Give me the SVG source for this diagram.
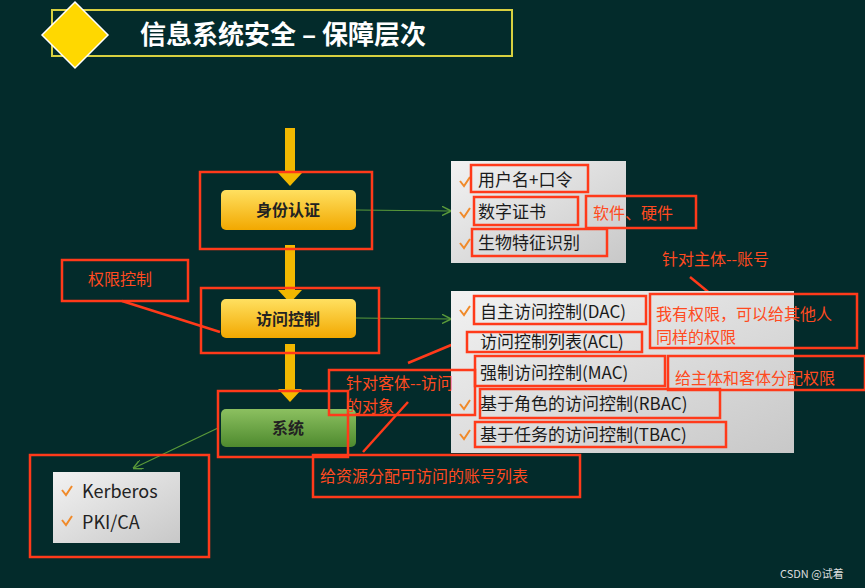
<svg xmlns="http://www.w3.org/2000/svg" width="865" height="588" viewBox="0 0 865 588">
<style>
text{font-family:"Noto Sans CJK SC","Liberation Sans",sans-serif}
.red{fill:none;stroke:#ff3a1a;stroke-width:2.5}
.rl{stroke:#ff3a1a;stroke-width:2.5}
.rt{fill:#ff4a20;font-size:16px}
.it{fill:#1a1a1a;font-size:17px}
.ck{fill:none;stroke:#f08a2a;stroke-width:2}
.node{font-size:16px;font-weight:bold;fill:#222;text-anchor:middle}
.gl{stroke:#5a9a3a;stroke-width:1.2;fill:none}
</style>
<defs>
<linearGradient id="yg" x1="0" y1="0" x2="0" y2="1"><stop offset="0" stop-color="#ffe060"/><stop offset="1" stop-color="#f2a800"/></linearGradient>
<linearGradient id="gg" x1="0" y1="0" x2="0" y2="1"><stop offset="0" stop-color="#8cc060"/><stop offset="1" stop-color="#4e8a2e"/></linearGradient>
<linearGradient id="pg" x1="0" y1="0" x2="1" y2="1"><stop offset="0" stop-color="#f2f2f2"/><stop offset="1" stop-color="#c8c8c8"/></linearGradient>
<marker id="ga" markerWidth="8" markerHeight="8" refX="7" refY="4" orient="auto"><path d="M0,0 L8,4 L0,8" fill="none" stroke="#5a9a3a" stroke-width="1.2"/></marker>
<g id="ya"><rect x="-5" y="0" width="10" height="45" fill="#f2b800"/><path d="M-12,45 L12,45 L0,58 Z" fill="#f2b800"/></g>
</defs>
<rect width="865" height="588" fill="#032b2b"/>
<g id="title">
<rect x="52" y="10" width="460" height="46" fill="none" stroke="#d8d040" stroke-width="2"/>
<path d="M75,2 L108,35 L75,68 L42,35 Z" fill="#ffd800" stroke="#fff" stroke-width="1.5"/>
<text x="140" y="44" fill="#fff" font-size="26" font-weight="bold">信息系统安全 – 保障层次</text>
</g>
<g id="arrows">
<use href="#ya" x="290" y="128"/>
<use href="#ya" x="290" y="245"/>
<use href="#ya" x="290" y="344"/>
</g>
<g id="connectors">
<line class="gl" x1="356" y1="210" x2="450" y2="211" marker-end="url(#ga)"/>
<line class="gl" x1="356" y1="318" x2="450" y2="319" marker-end="url(#ga)"/>
<line class="gl" x1="218" y1="428" x2="134" y2="468" marker-end="url(#ga)"/>
<line class="rl" x1="122" y1="301" x2="220" y2="332"/>
<line class="rl" x1="690" y1="277" x2="718" y2="300"/>
<line class="rl" x1="408" y1="363" x2="468" y2="338"/>
<line class="rl" x1="363" y1="452" x2="408" y2="402"/>
</g>
<g id="n-auth">
<rect x="221" y="190" width="135" height="40" rx="5" fill="url(#yg)"/>
<text class="node" x="288" y="216">身份认证</text>
<rect class="red" x="200" y="172" width="172" height="77"/>
</g>
<g id="n-access">
<rect x="221" y="299" width="135" height="39" rx="5" fill="url(#yg)"/>
<text class="node" x="288" y="325">访问控制</text>
<rect class="red" x="201" y="288" width="178" height="65"/>
</g>
<g id="n-sys">
<rect x="221" y="409" width="135" height="38" rx="5" fill="url(#gg)"/>
<text class="node" x="288" y="434">系统</text>
<rect class="red" x="218" y="391" width="130" height="66"/>
</g>
<g id="p-auth">
<rect x="451" y="161" width="175" height="102" fill="url(#pg)"/>
<path class="ck" d="M460,181 l4,5 l6,-9 M460,212 l4,5 l6,-9 M460,243 l4,5 l6,-9"/>
<text class="it" x="478" y="186">用户名+口令</text>
<text class="it" x="478" y="218">数字证书</text>
<text class="it" x="478" y="249">生物特征识别</text>
<rect class="red" x="471" y="165" width="117" height="27"/>
<rect class="red" x="474" y="197" width="104" height="28"/>
<rect class="red" x="472" y="229" width="135" height="27"/>
</g>
<g id="p-access">
<rect x="451" y="291" width="343" height="162" fill="url(#pg)"/>
<path class="ck" d="M460,310 l4,5 l6,-9 M460,404 l4,5 l6,-9 M460,434 l4,5 l6,-9"/>
<text class="it" x="480" y="318">自主访问控制(DAC)</text>
<text class="it" x="480" y="348">访问控制列表(ACL)</text>
<text class="it" x="480" y="379">强制访问控制(MAC)</text>
<text class="it" x="480" y="410">基于角色的访问控制(RBAC)</text>
<text class="it" x="480" y="441">基于任务的访问控制(TBAC)</text>
<rect class="red" x="474" y="296" width="172" height="28"/>
<rect class="red" x="467" y="332" width="175" height="20"/>
<rect class="red" x="475" y="356" width="190" height="30"/>
<rect class="red" x="480" y="389" width="240" height="29"/>
<rect class="red" x="475" y="422" width="251" height="25"/>
</g>
<g id="p-sys">
<rect x="53" y="472" width="127" height="71" fill="url(#pg)"/>
<path class="ck" d="M62,490 l4,5 l6,-9 M62,520 l4,5 l6,-9"/>
<text x="82" y="498" font-size="18" fill="#222" font-family="Open Sans,sans-serif">Kerberos</text>
<text x="82" y="529" font-size="18" fill="#222" font-family="Open Sans,sans-serif">PKI/CA</text>
<rect class="red" x="30" y="455" width="179" height="102"/>
</g>
<g id="notes">
<text class="rt" x="593" y="219">软件、硬件</text><rect class="red" x="586" y="196" width="110" height="32"/>
<text class="rt" x="662" y="265">针对主体--账号</text>
<rect class="red" x="650" y="294" width="207" height="54"/>
<text class="rt" x="656" y="320">我有权限，可以给其他人</text><text class="rt" x="656" y="343">同样的权限</text>
<rect class="red" x="668" y="356" width="197" height="34"/>
<text class="rt" x="675" y="384">给主体和客体分配权限</text>
<rect class="red" x="329" y="370" width="146" height="45"/>
<text class="rt" x="346" y="389">针对客体--访问</text><text class="rt" x="346" y="412">的对象</text>
<rect class="red" x="313" y="455" width="267" height="42"/>
<text class="rt" x="320" y="482">给资源分配可访问的账号列表</text>
<rect class="red" x="62" y="260" width="126" height="41"/>
<text class="rt" x="88" y="285">权限控制</text>
</g>
<text x="780" y="578" font-size="11" fill="#ddd">CSDN @试着</text>
</svg>
